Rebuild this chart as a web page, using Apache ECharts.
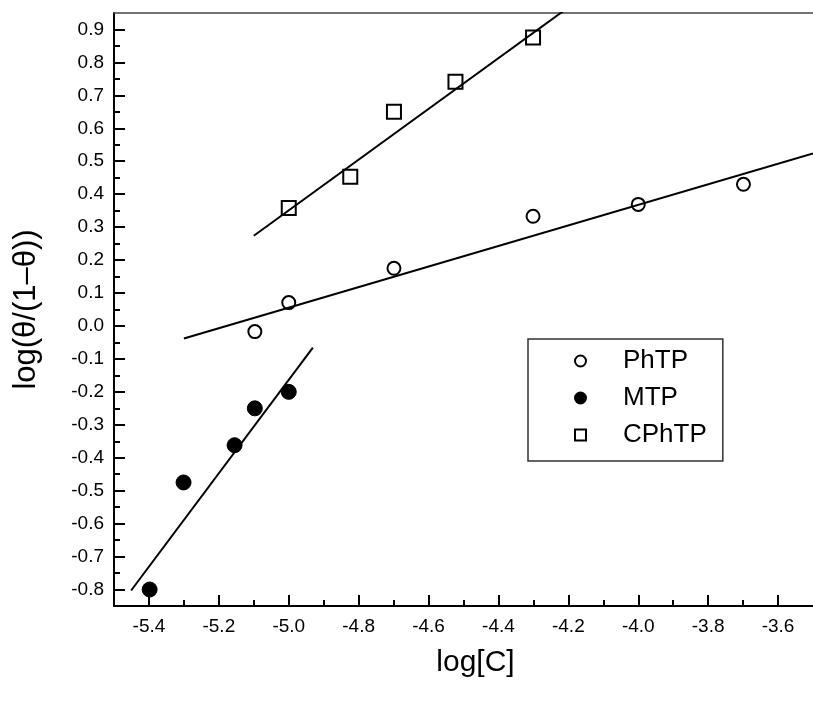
<!DOCTYPE html>
<html><head><meta charset="utf-8">
<script src="https://cdn.jsdelivr.net/npm/echarts@6/dist/echarts.min.js"></script>
<style>html,body{margin:0;padding:0;background:#fff}#c{width:813px;height:701px}</style>
</head><body><div id="c"></div>
<script>
// Data
const phtpX = [-5.097, -5.0, -4.699, -4.301, -4.0, -3.699];
const phtpY = [-0.017, 0.071, 0.175, 0.333, 0.369, 0.430];
const mtpX = [-5.398, -5.301, -5.155, -5.097, -5.0];
const mtpY = [-0.800, -0.475, -0.362, -0.250, -0.200];
const cphtpX = [-5.0, -4.824, -4.699, -4.523, -4.301];
const cphtpY = [0.358, 0.453, 0.650, 0.741, 0.876];
// fitted lines (endpoints)
const phtpFitX = [-5.3, -3.5];
const phtpFitY = [-0.038, 0.524];
const mtpFitX = [-5.451, -4.931];
const mtpFitY = [-0.803, -0.066];
const cphtpFitX = [-5.1, -4.2];
const cphtpFitY = [0.274, 0.967];
// ticks
const xMajorTicks = [-5.4, -5.2, -5.0, -4.8, -4.6, -4.4, -4.2, -4.0, -3.8, -3.6];
const xMinorTicks = [-5.3, -5.1, -4.9, -4.7, -4.5, -4.3, -4.1, -3.9, -3.7];
const yMajorTicks = [-0.8, -0.7, -0.6, -0.5, -0.4, -0.3, -0.2, -0.1, 0.0, 0.1, 0.2, 0.3, 0.4, 0.5, 0.6, 0.7, 0.8, 0.9];
const yMinorTicks = [-0.75, -0.65, -0.55, -0.45, -0.35, -0.25, -0.15, -0.05, 0.05, 0.15, 0.25, 0.35, 0.45, 0.55, 0.65, 0.75, 0.85];

const zip = (xs, ys) => xs.map((x, i) => [x, ys[i]]);
const FONT = '"Liberation Sans", Arial, sans-serif';
const xRange = {min: -5.5, max: -3.5};
const yRange = {min: -0.85, max: 0.95};

const chart = echarts.init(document.getElementById('c'), null, {renderer: 'canvas'});
chart.setOption({
  animation: false,
  backgroundColor: '#fff',
  grid: {left: 114, top: 13, width: 700, height: 593, containLabel: false},
  legend: {
    data: ['PhTP', 'MTP', 'CPhTP'],
    orient: 'vertical',
    left: 528, top: 339,
    padding: [9, 16, 13, 46],
    itemGap: 11,
    itemWidth: 11, itemHeight: 11,
    borderColor: '#333', borderWidth: 1.5,
    textStyle: {fontFamily: FONT, fontSize: 26, color: '#000', padding: [0, 0, 0, 32]}
  },
  xAxis: [
    {type: 'value', ...xRange, position: 'bottom',
     name: 'log[C]', nameLocation: 'middle', nameGap: 42,
     nameTextStyle: {fontFamily: FONT, fontSize: 30, color: '#000', padding: [0, 0, 0, 24]},
     axisLine: {onZero: false, lineStyle: {color: '#000', width: 2}},
     axisTick: {inside: true, length: 11, lineStyle: {color: '#000', width: 2}, customValues: xMajorTicks},
     axisLabel: {fontFamily: FONT, fontSize: 19, color: '#000', margin: 11, customValues: xMajorTicks,
                 formatter: v => v.toFixed(1)},
     splitLine: {show: false}},
    {type: 'value', ...xRange, position: 'bottom',
     axisLine: {show: false, onZero: false},
     axisTick: {inside: true, length: 6, lineStyle: {color: '#000', width: 2}, customValues: xMinorTicks},
     axisLabel: {show: false}, splitLine: {show: false}},
    {type: 'value', ...xRange, position: 'top',
     axisLine: {onZero: false, lineStyle: {color: '#444', width: 1.5}},
     axisTick: {show: false}, axisLabel: {show: false}, splitLine: {show: false}}
  ],
  yAxis: [
    {type: 'value', ...yRange, position: 'left',
     name: 'log(θ/(1–θ))', nameLocation: 'middle', nameGap: 72, nameRotate: 90,
     nameTextStyle: {fontFamily: FONT, fontSize: 31, color: '#000'},
     axisLine: {onZero: false, lineStyle: {color: '#000', width: 2}},
     axisTick: {inside: true, length: 11, lineStyle: {color: '#000', width: 2}, customValues: yMajorTicks},
     axisLabel: {fontFamily: FONT, fontSize: 19, color: '#000', margin: 10, customValues: yMajorTicks,
                 formatter: v => v.toFixed(1)},
     splitLine: {show: false}},
    {type: 'value', ...yRange, position: 'left',
     axisLine: {show: false, onZero: false},
     axisTick: {inside: true, length: 6, lineStyle: {color: '#000', width: 2}, customValues: yMinorTicks},
     axisLabel: {show: false}, splitLine: {show: false}}
  ],
  series: [
    {name: 'PhTP fit', type: 'line', data: zip(phtpFitX, phtpFitY), symbol: 'none', clip: true, z: 3,
     lineStyle: {color: '#000', width: 2, opacity: 1}},
    {name: 'MTP fit', type: 'line', data: zip(mtpFitX, mtpFitY), symbol: 'none', clip: true, z: 3,
     lineStyle: {color: '#000', width: 2, opacity: 1}},
    {name: 'CPhTP fit', type: 'line', data: zip(cphtpFitX, cphtpFitY), symbol: 'none', clip: true, z: 3,
     lineStyle: {color: '#000', width: 2, opacity: 1}},
    {name: 'PhTP', type: 'scatter', data: zip(phtpX, phtpY), symbol: 'circle', symbolSize: 13, z: 2,
     itemStyle: {color: '#fff', borderColor: '#000', borderWidth: 2, opacity: 1}},
    {name: 'MTP', type: 'scatter', data: zip(mtpX, mtpY), symbol: 'circle', symbolSize: 15, z: 2,
     itemStyle: {color: '#000', borderColor: '#000', borderWidth: 1, opacity: 1}},
    {name: 'CPhTP', type: 'scatter', data: zip(cphtpX, cphtpY), symbol: 'rect', symbolSize: 14, z: 2,
     itemStyle: {color: '#fff', borderColor: '#000', borderWidth: 2, opacity: 1}}
  ]
});
</script>
</body></html>
